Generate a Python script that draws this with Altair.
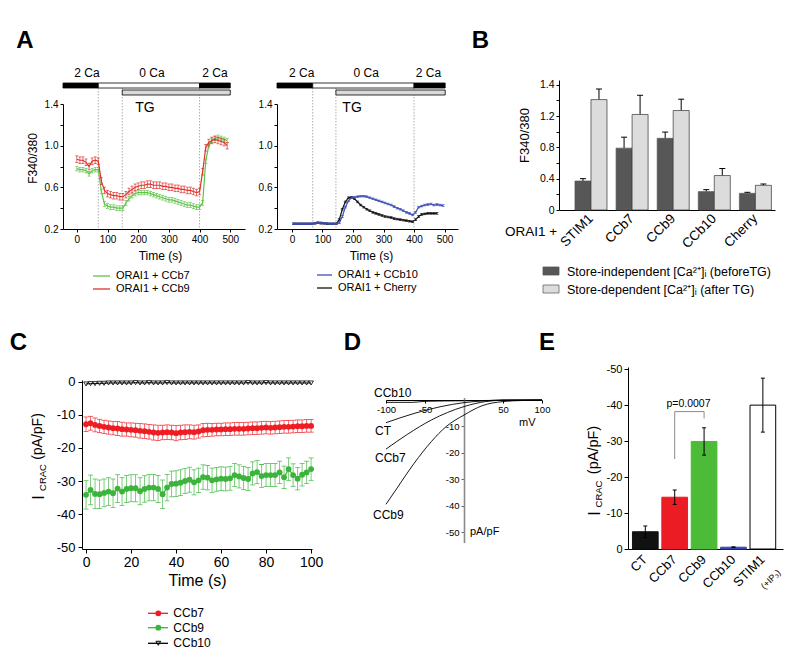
import altair as alt
import pandas as pd

FONT = "Liberation Sans"
W, H = 784, 652
OX, OY = 8, 8


def P(x):
    return x - OX


def Q(y):
    return y - OY


# ---------------- DATA ----------------
# Panel A (left): ORAI1 + CCb7 / ORAI1 + CCb9
a_left_time = [0, 10, 20, 30, 40, 50, 60, 70, 80, 90,
               100, 110, 120, 130, 140, 150, 160, 170, 180, 190,
               200, 210, 220, 230, 240, 250, 260, 270, 280, 290,
               300, 310, 320, 330, 340, 350, 360, 370, 380, 390,
               400, 410, 420, 430, 440, 450, 460, 470, 480, 490]
a_ccb7 = [0.78, 0.77, 0.77, 0.76, 0.73, 0.76, 0.77, 0.77, 0.56, 0.44,
          0.42, 0.41, 0.41, 0.40, 0.40, 0.40, 0.45, 0.49, 0.52, 0.54,
          0.55, 0.55, 0.55, 0.55, 0.54, 0.53, 0.52, 0.51, 0.50, 0.49,
          0.48, 0.48, 0.47, 0.46, 0.45, 0.44, 0.43, 0.43, 0.42, 0.41,
          0.41, 0.45, 0.85, 1.00, 1.05, 1.07, 1.08, 1.07, 1.06, 1.05]
a_ccb9 = [0.87, 0.86, 0.86, 0.84, 0.80, 0.85, 0.86, 0.85, 0.66, 0.57,
          0.54, 0.53, 0.52, 0.52, 0.51, 0.51, 0.53, 0.56, 0.58, 0.60,
          0.61, 0.62, 0.62, 0.63, 0.63, 0.62, 0.62, 0.62, 0.61, 0.61,
          0.60, 0.60, 0.59, 0.59, 0.58, 0.58, 0.57, 0.57, 0.56, 0.55,
          0.56, 0.75, 0.98, 1.03, 1.05, 1.06, 1.05, 1.04, 1.03, 1.00]
a_ccb7_err = 0.022
a_ccb9_err = 0.032

# Panel A (right): ORAI1 + CCb10 / ORAI1 + Cherry
a_ccb10_time = [5, 15, 25, 35, 45, 55, 65, 75, 85, 95,
                105, 115, 125, 135, 145, 155, 165, 175, 185, 195,
                205, 215, 225, 235, 245, 255, 265, 275, 285, 295,
                305, 315, 325, 335, 345, 355, 365, 375, 385, 395,
                405, 415, 425, 435, 445, 455, 465, 475, 485, 495]
a_ccb10 = [0.25, 0.25, 0.25, 0.25, 0.25, 0.25, 0.25, 0.255, 0.26, 0.26,
           0.255, 0.255, 0.25, 0.25, 0.25, 0.26, 0.32, 0.41, 0.47, 0.50,
           0.505, 0.51, 0.515, 0.515, 0.51, 0.50, 0.49, 0.48, 0.47, 0.46,
           0.45, 0.44, 0.43, 0.415, 0.40, 0.39, 0.375, 0.36, 0.35, 0.335,
           0.36, 0.41, 0.42, 0.43, 0.435, 0.44, 0.43, 0.435, 0.43, 0.425]
a_cherry_time = [5, 15, 25, 35, 45, 55, 65, 75, 85, 95,
                 105, 115, 125, 135, 145, 155, 165, 175, 185, 195,
                 205, 215, 225, 235, 245, 255, 265, 275, 285, 295,
                 305, 315, 325, 335, 345, 355, 365, 375, 385, 395,
                 405, 415, 425, 435, 445, 455, 465, 475]
a_cherry = [0.25, 0.25, 0.25, 0.25, 0.25, 0.25, 0.25, 0.255, 0.26, 0.255,
            0.255, 0.25, 0.25, 0.25, 0.25, 0.29, 0.39, 0.46, 0.50, 0.505,
            0.49, 0.46, 0.43, 0.41, 0.39, 0.375, 0.36, 0.35, 0.34, 0.33,
            0.32, 0.315, 0.31, 0.30, 0.295, 0.29, 0.285, 0.28, 0.275, 0.27,
            0.29, 0.32, 0.34, 0.345, 0.35, 0.35, 0.35, 0.35]
a_ccb10_err = 0.008
a_cherry_err = 0.008

a_xticks = [0, 100, 200, 300, 400, 500]
a_yticks = [0.2, 0.4, 0.6, 0.8, 1.0, 1.2, 1.4]
a_ylabels = ["0.2", "", "0.6", "", "1.0", "", "1.4"]
a_ca_labels = ["2 Ca", "0 Ca", "2 Ca"]
a_ca_fills = ["black", "white", "black"]

# Panel B
b_groups = ["STIM1", "CCb7", "CCb9", "CCb10", "Cherry"]
b_before = [0.37, 0.79, 0.915, 0.235, 0.213]
b_before_err = [0.03, 0.14, 0.08, 0.025, 0.013]
b_after = [1.41, 1.22, 1.27, 0.44, 0.315]
b_after_err = [0.135, 0.245, 0.145, 0.09, 0.017]
b_kinds = ["before", "after"]
b_yticks = [0, 0.2, 0.4, 0.6, 0.8, 1.0, 1.2, 1.4, 1.6]
b_ylabels = ["0", "", "0.4", "", "0.8", "", "1.2", "", "1.4"]

# Panel C
c_time = [0, 2, 4, 6, 8, 10, 12, 14, 16, 18, 20, 22, 24, 26, 28, 30, 32, 34, 36, 38,
          40, 42, 44, 46, 48, 50, 52, 54, 56, 58, 60, 62, 64, 66, 68, 70, 72, 74, 76, 78,
          80, 82, 84, 86, 88, 90, 92, 94, 96, 98, 100]
c_ccb7 = [-12.8, -12.5, -13.0, -13.3, -13.6, -13.8, -14.0, -14.1, -14.3, -14.4,
          -14.5, -14.6, -14.8, -14.9, -15.1, -15.3, -15.4, -15.3, -15.2, -15.3,
          -15.5, -15.3, -15.2, -15.1, -15.2, -15.0, -14.6, -14.5, -14.5, -14.4,
          -14.4, -14.3, -14.3, -14.2, -14.2, -14.2, -14.1, -14.0, -14.0, -13.9,
          -13.8, -13.9, -13.8, -13.7, -13.6, -13.6, -13.5, -13.4, -13.4, -13.3, -13.3]
c_ccb7_err = [2.2, 2.1, 2.1, 2.0, 2.0, 2.0, 2.0, 2.1, 2.1, 2.0,
              2.1, 2.1, 2.2, 2.2, 2.2, 2.3, 2.3, 2.2, 2.2, 2.2,
              2.3, 2.2, 2.2, 2.1, 2.1, 2.0, 2.0, 2.0, 1.9, 1.9,
              1.9, 1.9, 1.9, 1.9, 1.9, 1.9, 1.9, 1.9, 1.9, 1.9,
              1.9, 1.9, 1.9, 1.9, 1.9, 1.9, 1.9, 1.9, 1.9, 1.9, 1.9]
c_ccb9 = [-34.2, -32.7, -33.9, -34.0, -33.6, -33.2, -33.7, -32.3, -33.2, -32.4,
          -32.2, -32.2, -33.1, -32.4, -32.0, -32.0, -32.4, -34.0, -32.0, -30.9,
          -30.8, -30.5, -30.0, -29.6, -30.4, -29.8, -28.8, -29.0, -29.8, -29.5,
          -29.3, -29.4, -29.2, -28.2, -28.6, -29.1, -29.4, -27.7, -27.3, -28.5,
          -28.2, -28.2, -28.2, -27.4, -28.9, -26.4, -28.2, -29.3, -28.1, -27.4, -26.4]
c_ccb9_err = [4.3, 4.5, 4.5, 4.3, 4.2, 4.2, 4.3, 4.2, 4.2, 4.1,
              4.1, 4.1, 4.1, 4.0, 4.0, 4.0, 4.1, 4.3, 4.0, 3.9,
              3.9, 3.9, 3.8, 3.8, 3.8, 3.7, 3.7, 3.7, 3.7, 3.6,
              3.6, 3.6, 3.6, 3.5, 3.5, 3.5, 3.5, 3.5, 3.5, 3.5,
              3.5, 3.5, 3.5, 3.4, 3.4, 3.4, 3.4, 3.4, 3.4, 3.4, 3.4]
c_ccb10 = [-0.6, -0.5, -0.5, -0.4, -0.4, -0.3, -0.3, -0.3, -0.3, -0.3,
           -0.3, -0.2, -0.3, -0.3, -0.2, -0.3, -0.3, -0.3, -0.2, -0.3,
           -0.3, -0.3, -0.3, -0.3, -0.3, -0.3, -0.3, -0.3, -0.3, -0.3,
           -0.3, -0.3, -0.3, -0.3, -0.3, -0.3, -0.2, -0.3, -0.3, -0.3,
           -0.2, -0.3, -0.3, -0.3, -0.3, -0.3, -0.3, -0.3, -0.3, -0.3, -0.3]
c_xticks = [0, 20, 40, 60, 80, 100]
c_yticks = [0, -10, -20, -30, -40, -50]
c_ylabels = ["0", "-10", "-20", "-30", "-40", "-50"]

# Panel D: I-V curves
d_ccb9_v = [-100, -85, -64, -42, -23, 0, 23, 50, 75, 100]
d_ccb9_i = [-39.5, -33.0, -24.0, -15.8, -10.1, -5.7, -2.2, -0.6, -0.2, -0.1]
d_ccb7_v = [-100, -72, -42, 0, 28, 50, 100]
d_ccb7_i = [-18.6, -12.9, -7.6, -2.5, -0.6, -0.1, 0.0]
d_ct_v = [-100, -64, -29.5, 0, 28, 50, 100]
d_ct_i = [-8.6, -5.1, -2.5, -1.0, -0.3, 0.0, 0.0]
d_ccb10_v = [-100, -66, -50, 0, 50, 100]
d_ccb10_i = [-0.9, -0.9, -0.5, -0.3, -0.1, 0.0]
d_xticks = [-100, -50, 50, 100]
d_xlabels = ["-100", "-50", "50", "100"]
d_yticks = [-10, -20, -30, -40, -50]
d_ylabels = ["-10", "-20", "-30", "-40", "-50"]

# Panel E
e_cats = ["CT", "CCb7", "CCb9", "CCb10", "STIM1"]
e_vals = [-4.8, -14.4, -29.9, -0.5, -40.0]
e_err = [1.6, 2.0, 3.8, 0.1, 7.5]
e_fill = ["#111111", "#ec1c24", "#4cbb38", "#3b47ad", "white"]
e_stroke = ["#111111", "#ec1c24", "#4cbb38", "#3b47ad", "black"]
e_yticks = [0, -10, -20, -30, -40, -50]
e_ylabels = ["0", "-10", "-20", "-30", "-40", "-50"]
e_bracket_cat = ["CCb7", "CCb7", "CCb9", "CCb9"]
e_bracket_val = [-25.0, -38.2, -38.2, -36.3]


# ---------------- HELPERS ----------------
def expr_labels(values, labels):
    e = "''"
    for v, l in zip(values, labels):
        e = f"(abs(datum.value - ({v})) < 1e-6 ? '{l}' : {e})"
    return e


def txt(s, x, y, size=11, align="left", baseline="middle", angle=0, weight="normal", color="black"):
    return alt.Chart(pd.DataFrame({"s": [s]})).mark_text(
        x=P(x), y=Q(y), fontSize=size, align=align, baseline=baseline,
        angle=angle, fontWeight=weight, color=color, font=FONT
    ).encode(text="s:N")


def swatch_line(x1, x2, y, color, width=1.3):
    return alt.Chart(pd.DataFrame({"k": [0]})).mark_rule(color=color, strokeWidth=width).encode(
        x=alt.value(P(x1)), x2=alt.value(P(x2)), y=alt.value(Q(y)))


def swatch_box(x1, x2, y1, y2, fill, stroke):
    return alt.Chart(pd.DataFrame({"k": [0]})).mark_rect(fill=fill, stroke=stroke, strokeWidth=0.8).encode(
        x=alt.value(P(x1)), x2=alt.value(P(x2)), y=alt.value(Q(y1)), y2=alt.value(Q(y2)))


def swatch_point(x, y, shape, color, filled, size):
    return alt.Chart(pd.DataFrame({"k": [0]})).mark_point(
        shape=shape, color=color, filled=filled, size=size, opacity=1, strokeWidth=1
    ).encode(x=alt.value(P(x)), y=alt.value(Q(y)))


def sdf(times, vals, err, color):
    return pd.DataFrame({
        "t": times, "v": vals,
        "lo": [round(v - err, 4) for v in vals],
        "hi": [round(v + err, 4) for v in vals],
        "c": [color] * len(times)})


# ---------------- PANEL A ----------------
def panel_a(series, x_dom, x_rng, ca_edges, tg_edges, ca_label_t, tg_t, dotted_t, ytitle, title_cx):
    xs = alt.Scale(domain=x_dom, range=[P(x_rng[0]), P(x_rng[1])], nice=False, zero=False)
    ys = alt.Scale(domain=[0.2, 1.4], range=[Q(229), Q(104)], nice=False, zero=False)
    xax = alt.Axis(orient="bottom", offset=Q(229) - H, values=a_xticks, tickSize=3,
                   labelFontSize=10, labelPadding=2, labelFlush=False, labelOverlap=False,
                   title="Time (s)", titleFontSize=12, titleX=P(title_cx), titleY=26,
                   titleAlign="center", titleBaseline="middle")
    yargs = dict(orient="left", offset=-P(x_rng[0]), values=a_yticks,
                 labelExpr=expr_labels(a_yticks, a_ylabels), tickSize=3, labelFontSize=10,
                 labelPadding=2, labelFlush=False, labelOverlap=False)
    if ytitle:
        yargs.update(title=ytitle, titleFontSize=12, titleX=32 - x_rng[0], titleY=Q(158),
                     titleAlign="center", titleBaseline="middle", titleAngle=270)
    else:
        yargs.update(title=None)
    yax = alt.Axis(**yargs)

    def X(f):
        return alt.X(f, type="quantitative", scale=xs, axis=xax)

    def Y(f):
        return alt.Y(f, type="quantitative", scale=ys, axis=yax)

    layers = []
    layers.append(alt.Chart(pd.DataFrame({"t": dotted_t})).mark_rule(
        color="#8a8a8a", strokeWidth=0.7, strokeDash=[1.5, 1.5]).encode(
        x=X("t"), y=alt.value(Q(88)), y2=alt.value(Q(229))))
    for df in series:
        base = alt.Chart(df)
        C = alt.Color("c:N", scale=None)
        layers.append(base.mark_rule(strokeWidth=0.7).encode(x=X("t"), y=Y("lo"), y2="hi:Q", color=C))
        layers.append(base.mark_tick(orient="horizontal", size=3, thickness=0.7, opacity=1).encode(
            x=X("t"), y=Y("lo"), color=C))
        layers.append(base.mark_tick(orient="horizontal", size=3, thickness=0.7, opacity=1).encode(
            x=X("t"), y=Y("hi"), color=C))
        layers.append(base.mark_line(strokeWidth=1.2).encode(x=X("t"), y=Y("v"), color=C))

    ca_df = pd.DataFrame({"s": ca_edges[:-1], "e": ca_edges[1:], "f": a_ca_fills})
    layers.append(alt.Chart(ca_df).mark_rect(stroke="black", strokeWidth=0.8).encode(
        x=X("s"), x2="e:Q", y=alt.value(Q(83)), y2=alt.value(Q(88)), fill=alt.Fill("f:N", scale=None)))
    tg_df = pd.DataFrame({"s": [tg_edges[0]], "e": [tg_edges[1]]})
    layers.append(alt.Chart(tg_df).mark_rect(stroke="black", strokeWidth=0.8, fill="#dadada").encode(
        x=X("s"), x2="e:Q", y=alt.value(Q(90)), y2=alt.value(Q(95))))
    lab_df = pd.DataFrame({"t": ca_label_t, "s": a_ca_labels})
    layers.append(alt.Chart(lab_df).mark_text(fontSize=12, font=FONT, baseline="middle").encode(
        x=X("t"), y=alt.value(Q(73)), text="s:N"))
    layers.append(alt.Chart(pd.DataFrame({"t": [tg_t], "s": ["TG"]})).mark_text(
        fontSize=14, font=FONT, baseline="middle").encode(
        x=X("t"), y=alt.value(Q(108)), text="s:N"))
    return alt.layer(*layers)


panelA1 = panel_a(
    [sdf(a_left_time, a_ccb7, a_ccb7_err, "#5ec447"), sdf(a_left_time, a_ccb9, a_ccb9_err, "#e0312c")],
    [-45, 548], [63, 245], [-45, 70, 400, 500], [148, 500], [33, 245, 450], 222,
    [70, 148, 400], "F340/380", 160)
panelA2 = panel_a(
    [sdf(a_cherry_time, a_cherry, a_cherry_err, "#111111"), sdf(a_ccb10_time, a_ccb10, a_ccb10_err, "#3f4fb8")],
    [-49, 544], [277, 458], [-49, 68, 400, 502], [144, 502], [32, 243, 447], 197,
    [68, 144, 400], None, 371)

legendA = [
    swatch_line(93, 110, 276, "#5ec447"), txt("ORAI1 + CCb7", 116, 276, 11),
    swatch_line(93, 110, 289, "#e0312c"), txt("ORAI1 + CCb9", 116, 289, 11),
    swatch_line(317, 332, 275, "#3f4fb8"), txt("ORAI1 + CCb10", 338, 275, 11),
    swatch_line(317, 332, 288, "#111111"), txt("ORAI1 + Cherry", 338, 288, 11),
]

# ---------------- PANEL B ----------------
dfB = pd.DataFrame({
    "g": b_groups * 2,
    "k": [b_kinds[0]] * 5 + [b_kinds[1]] * 5,
    "v": b_before + b_after,
    "top": [round(v + e, 4) for v, e in zip(b_before + b_after, b_before_err + b_after_err)],
    "f": ["#575757"] * 5 + ["#dcdcdc"] * 5,
    "st": ["#575757"] * 5 + ["#333333"] * 5,
})
xB = alt.Scale(domain=b_groups, range=[P(559), P(775)], paddingInner=0.221, paddingOuter=0.238, align=0.816)
yB = alt.Scale(domain=[0, 1.66], range=[Q(210), Q(80)], nice=False, zero=False)
xoB = alt.XOffset("k:N", scale=alt.Scale(domain=b_kinds, paddingInner=0, paddingOuter=0))
xaxB = alt.Axis(orient="bottom", offset=Q(210) - H, ticks=False, labelAngle=315, labelAlign="right",
                labelBaseline="middle", labelPadding=6, labelFontSize=13.5, title=None, labelOverlap=False)
yaxB = alt.Axis(orient="left", offset=-P(559), values=b_yticks, labelExpr=expr_labels(b_yticks, b_ylabels),
                tickSize=3, labelFontSize=10.5, labelPadding=2, labelFlush=False, labelOverlap=False,
                title="F340/380", titleFontSize=13, titleX=524 - 559, titleY=Q(135),
                titleAlign="center", titleBaseline="middle", titleAngle=270)
baseB = alt.Chart(dfB)
XB = alt.X("g:N", scale=xB, axis=xaxB)


def YB(f):
    return alt.Y(f, type="quantitative", scale=yB, axis=yaxB)


panelB = alt.layer(
    baseB.mark_rule(color="black", strokeWidth=1).encode(x=XB, xOffset=xoB, y=YB("v"), y2="top:Q"),
    baseB.mark_bar(strokeWidth=0.7).encode(
        x=XB, xOffset=xoB, y=YB("v"),
        fill=alt.Fill("f:N", scale=None), stroke=alt.Stroke("st:N", scale=None)),
    baseB.mark_tick(orient="horizontal", size=6, thickness=1, color="black", opacity=1).encode(
        x=XB, xOffset=xoB, y=YB("top")),
)
legendB = [
    txt("ORAI1 +", 505, 232, 13.5),
    swatch_box(543, 559, 267, 275, "#575757", "#575757"),
    txt("Store-independent [Ca²⁺]ᵢ (beforeTG)", 567, 271.5, 12.5),
    swatch_box(543, 559, 285, 293, "#dcdcdc", "#666666"),
    txt("Store-dependent [Ca²⁺]ᵢ (after TG)", 567, 289.5, 12.5),
]

# ---------------- PANEL C ----------------
xC = alt.Scale(domain=[-1.8, 100.4], range=[P(82), P(312)], nice=False, zero=False)
yC = alt.Scale(domain=[-50.6, 0.6], range=[Q(549), Q(380)], nice=False, zero=False)
xaxC = alt.Axis(orient="bottom", offset=Q(549) - H, values=c_xticks, tickSize=4, labelFontSize=14,
                labelPadding=2, labelFlush=False, labelOverlap=False, title="Time (s)", titleFontSize=16,
                titleX=P(197), titleY=31, titleAlign="center", titleBaseline="middle")
yaxC = alt.Axis(orient="left", offset=-P(82), values=c_yticks, labelExpr=expr_labels(c_yticks, c_ylabels),
                tickSize=4, labelFontSize=13, labelPadding=3, labelFlush=False, labelOverlap=False, title=None)


def XC(f):
    return alt.X(f, type="quantitative", scale=xC, axis=xaxC)


def YC(f):
    return alt.Y(f, type="quantitative", scale=yC, axis=yaxC)


def c_series(vals, errs, color):
    df = pd.DataFrame({"t": c_time, "v": vals,
                       "lo": [round(v - e, 3) for v, e in zip(vals, errs)],
                       "hi": [round(v + e, 3) for v, e in zip(vals, errs)]})
    b = alt.Chart(df)
    return [
        b.mark_rule(color=color, strokeWidth=0.8, opacity=0.85).encode(x=XC("t"), y=YC("lo"), y2="hi:Q"),
        b.mark_tick(orient="horizontal", size=5, thickness=0.8, color=color, opacity=0.85).encode(
            x=XC("t"), y=YC("lo")),
        b.mark_tick(orient="horizontal", size=5, thickness=0.8, color=color, opacity=0.85).encode(
            x=XC("t"), y=YC("hi")),
        b.mark_line(color=color, strokeWidth=1.2).encode(x=XC("t"), y=YC("v")),
        b.mark_point(shape="circle", filled=True, size=34, color=color, opacity=1).encode(
            x=XC("t"), y=YC("v")),
    ]


dfC10 = pd.DataFrame({"t": c_time, "v": c_ccb10})
panelC = alt.layer(
    *c_series(c_ccb9, c_ccb9_err, "#3cb43c"),
    *c_series(c_ccb7, c_ccb7_err, "#ee1d23"),
    alt.Chart(dfC10).mark_line(color="black", strokeWidth=1).encode(x=XC("t"), y=YC("v")),
    alt.Chart(dfC10).mark_point(shape="triangle-down", filled=False, size=22, color="black",
                                strokeWidth=0.8, opacity=1).encode(x=XC("t"), y=YC("v")),
)
legendC = [
    swatch_line(148, 168, 613.3, "#ee1d23"), swatch_point(158.3, 613.3, "circle", "#ee1d23", True, 34),
    txt("CCb7", 173.3, 613.3, 12),
    swatch_line(148, 168, 627.7, "#3cb43c"), swatch_point(158.3, 627.7, "circle", "#3cb43c", True, 34),
    txt("CCb9", 173.3, 627.7, 12),
    swatch_line(148, 168, 643.3, "black"), swatch_point(158.3, 643.3, "triangle-down", "black", False, 22),
    txt("CCb10", 173.3, 643.3, 12),
    txt("I", 44, 497.5, 16, align="center", baseline="alphabetic", angle=270),
    txt("CRAC", 46, 477.5, 9.5, align="center", baseline="alphabetic", angle=270),
    txt("(pA/pF)", 41.5, 436.5, 14, align="center", baseline="alphabetic", angle=270),
]

# ---------------- PANEL D ----------------
xD = alt.Scale(domain=[-100, 100], range=[P(386), P(542)], nice=False, zero=False)
yD = alt.Scale(domain=[-54, 0.9], range=[Q(542.6), Q(397.6)], nice=False, zero=False)
xaxD = alt.Axis(orient="bottom", offset=Q(400) - H, values=d_xticks, labelExpr=expr_labels(d_xticks, d_xlabels),
                tickSize=3, labelFontSize=9.5, labelPadding=1, labelFlush=False, labelOverlap=False,
                title=None, domainWidth=1)
yaxD = alt.Axis(orient="left", offset=-P(464), values=d_yticks, labelExpr=expr_labels(d_yticks, d_ylabels),
                tickSize=3, labelFontSize=9.5, labelPadding=2, labelFlush=False, labelOverlap=False,
                title=None, domainColor="#8a8a8a", domainWidth=1.6, tickColor="#666666")
dfD = pd.concat([
    pd.DataFrame({"V": d_ccb9_v, "I": d_ccb9_i, "s": "CCb9"}),
    pd.DataFrame({"V": d_ccb7_v, "I": d_ccb7_i, "s": "CCb7"}),
    pd.DataFrame({"V": d_ct_v, "I": d_ct_i, "s": "CT"}),
    pd.DataFrame({"V": d_ccb10_v, "I": d_ccb10_i, "s": "CCb10"}),
])
panelD = alt.layer(
    alt.Chart(dfD).mark_line(color="black", strokeWidth=0.9, interpolate="monotone").encode(
        x=alt.X("V:Q", scale=xD, axis=xaxD), y=alt.Y("I:Q", scale=yD, axis=yaxD), detail="s:N"),
)
labelsD = [
    txt("CCb10", 374, 393, 12), txt("CT", 375, 431, 12), txt("CCb7", 375, 458, 12),
    txt("CCb9", 373, 515, 12), txt("mV", 519, 423, 11), txt("pA/pF", 470, 532, 11),
]

# ---------------- PANEL E ----------------
dfE = pd.DataFrame({
    "cat": e_cats, "v": e_vals, "f": e_fill, "s": e_stroke,
    "a": [round(v - e, 3) for v, e in zip(e_vals, e_err)],
    "b": [round(v + e, 3) for v, e in zip(e_vals, e_err)],
})
dfBr = pd.DataFrame({"cat": e_bracket_cat, "v": e_bracket_val, "o": [0, 1, 2, 3]})
xE = alt.Scale(domain=e_cats, range=[P(628), P(783)], paddingInner=0.126, paddingOuter=0.2, align=0.38)
yE = alt.Scale(domain=[-50.6, 0], range=[Q(367), Q(549)], nice=False, zero=False)
xaxE = alt.Axis(orient="bottom", offset=Q(549) - H, ticks=False, labelAngle=315, labelAlign="right",
                labelBaseline="middle", labelPadding=8, labelFontSize=13, title=None, labelOverlap=False)
yaxE = alt.Axis(orient="left", offset=-P(628), values=e_yticks, labelExpr=expr_labels(e_yticks, e_ylabels),
                tickSize=4, labelFontSize=11, labelPadding=2, labelFlush=False, labelOverlap=False, title=None)
XE = alt.X("cat:N", scale=xE, axis=xaxE)


def YE(f):
    return alt.Y(f, type="quantitative", scale=yE, axis=yaxE)


baseE = alt.Chart(dfE)
panelE = alt.layer(
    baseE.mark_bar(strokeWidth=1).encode(
        x=XE, y=YE("v"), y2=alt.datum(0),
        fill=alt.Fill("f:N", scale=None), stroke=alt.Stroke("s:N", scale=None)),
    baseE.mark_rule(color="black", strokeWidth=1).encode(x=XE, y=YE("a"), y2="b:Q"),
    baseE.mark_tick(orient="horizontal", size=4, thickness=1, color="black", opacity=1).encode(x=XE, y=YE("a")),
    baseE.mark_tick(orient="horizontal", size=4, thickness=1, color="black", opacity=1).encode(x=XE, y=YE("b")),
    alt.Chart(dfBr).mark_line(color="#8c8c8c", strokeWidth=1).encode(x=XE, y=YE("v"), order="o:Q"),
)
labelsE = [
    txt("p=0.0007", 688.5, 404, 10.5, align="center"),
    txt("(+IP₃)", 779, 571, 9, align="right", angle=315),
    txt("I", 600, 513.5, 16, align="center", baseline="alphabetic", angle=270),
    txt("CRAC", 602, 494, 9.5, align="center", baseline="alphabetic", angle=270),
    txt("(pA/pF)", 598, 450, 14.5, align="center", baseline="alphabetic", angle=270),
]

letters = [
    txt("A", 25, 48.3, 24, align="center", baseline="alphabetic", weight="bold"),
    txt("B", 480.5, 48.3, 24, align="center", baseline="alphabetic", weight="bold"),
    txt("C", 18.5, 350, 24, align="center", baseline="alphabetic", weight="bold"),
    txt("D", 352.5, 350, 24, align="center", baseline="alphabetic", weight="bold"),
    txt("E", 547, 350, 24, align="center", baseline="alphabetic", weight="bold"),
]

chart = alt.layer(
    panelA1, panelA2, panelB, panelC, panelD, panelE,
    *legendA, *legendB, *legendC, *labelsD, *labelsE, *letters,
).resolve_scale(
    x="independent", y="independent"
).properties(
    width=W, height=H, autosize=alt.AutoSizeParams(type="none"), padding=0
).configure_view(
    stroke=None
).configure_axis(
    grid=False, domainColor="black", tickColor="black", labelColor="black", titleColor="black",
    labelFont=FONT, titleFont=FONT, titleFontWeight="normal", domainWidth=1, tickWidth=1
)

chart.save("out.html", embed_options={"renderer": "svg", "actions": False})
